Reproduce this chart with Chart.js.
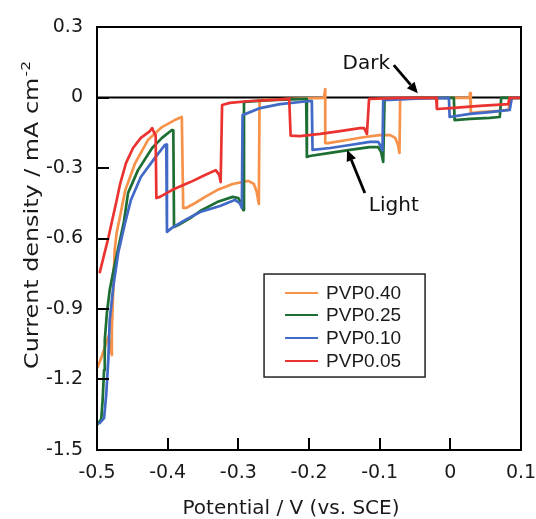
<!DOCTYPE html>
<html>
<head>
<meta charset="utf-8">
<script src="https://cdn.jsdelivr.net/npm/chart.js@4.4.1/dist/chart.umd.min.js"></script>
<style>
html,body{margin:0;padding:0;background:#fff;}
#wrap{width:536px;height:519px;}
</style>
</head>
<body>
<div id="wrap"><canvas id="c" width="536" height="519"></canvas></div>
<script>
// ---- data ----
const seriesNames = ["PVP0.40", "PVP0.25", "PVP0.10", "PVP0.05"];
const seriesColors = ["#F7924A", "#1D6E32", "#4169C6", "#EA3330"];

const potentialPVP040 = [-0.499,-0.493,-0.487,-0.484,-0.482,-0.479,-0.479,-0.477,-0.475,-0.472,-0.467,-0.460,-0.446,-0.428,-0.408,-0.390,-0.380,-0.378,-0.374,-0.361,-0.347,-0.330,-0.308,-0.286,-0.278,-0.274,-0.271,-0.270,-0.227,-0.179,-0.177,-0.177,-0.173,-0.146,-0.121,-0.100,-0.085,-0.078,-0.074,-0.072,-0.071,-0.020,0.027,0.028,0.029,0.042,0.070,0.082,0.083,0.100];
const currentPVP040 = [-1.147,-1.100,-1.047,-1.017,-1.047,-1.096,-0.989,-0.819,-0.649,-0.572,-0.500,-0.394,-0.279,-0.181,-0.126,-0.096,-0.083,-0.470,-0.470,-0.449,-0.423,-0.394,-0.368,-0.355,-0.368,-0.402,-0.453,-0.011,-0.006,-0.002,0.036,-0.194,-0.194,-0.181,-0.168,-0.160,-0.160,-0.172,-0.202,-0.236,-0.006,-0.002,-0.002,0.019,-0.066,-0.062,-0.057,-0.053,-0.002,-0.002];

const potentialPVP025 = [-0.500,-0.494,-0.492,-0.490,-0.489,-0.486,-0.482,-0.476,-0.469,-0.462,-0.456,-0.442,-0.422,-0.408,-0.394,-0.392,-0.391,-0.385,-0.368,-0.354,-0.330,-0.308,-0.300,-0.296,-0.293,-0.292,-0.255,-0.204,-0.203,-0.199,-0.170,-0.142,-0.114,-0.102,-0.098,-0.095,-0.093,-0.040,0.005,0.006,0.028,0.056,0.070,0.072,0.100];
const currentPVP025 = [-1.394,-1.368,-1.287,-1.160,-1.032,-0.917,-0.819,-0.726,-0.628,-0.530,-0.406,-0.309,-0.215,-0.172,-0.138,-0.140,-0.551,-0.543,-0.513,-0.483,-0.445,-0.423,-0.428,-0.449,-0.479,-0.019,-0.011,-0.006,-0.253,-0.249,-0.236,-0.223,-0.211,-0.211,-0.232,-0.274,-0.006,-0.002,-0.002,-0.096,-0.091,-0.087,-0.083,-0.002,-0.002];

const potentialPVP010 = [-0.496,-0.490,-0.487,-0.484,-0.482,-0.477,-0.470,-0.460,-0.452,-0.438,-0.418,-0.404,-0.402,-0.401,-0.394,-0.375,-0.354,-0.326,-0.305,-0.298,-0.295,-0.294,-0.269,-0.241,-0.199,-0.196,-0.195,-0.170,-0.142,-0.114,-0.102,-0.098,-0.096,-0.095,-0.040,-0.002,-0.001,0.028,0.056,0.084,0.087,0.100];
const currentPVP010 = [-1.385,-1.364,-1.266,-1.117,-0.947,-0.806,-0.662,-0.530,-0.436,-0.338,-0.257,-0.202,-0.200,-0.572,-0.555,-0.521,-0.487,-0.462,-0.436,-0.450,-0.470,-0.075,-0.045,-0.028,-0.015,-0.015,-0.223,-0.215,-0.202,-0.189,-0.189,-0.210,-0.225,-0.011,-0.004,-0.002,-0.083,-0.070,-0.062,-0.053,-0.002,-0.002];

const potentialPVP005 = [-0.496,-0.490,-0.484,-0.479,-0.473,-0.467,-0.459,-0.449,-0.438,-0.425,-0.422,-0.419,-0.417,-0.416,-0.411,-0.394,-0.368,-0.347,-0.332,-0.327,-0.325,-0.323,-0.312,-0.283,-0.255,-0.228,-0.226,-0.213,-0.184,-0.156,-0.128,-0.122,-0.118,-0.115,-0.071,-0.020,-0.019,0.000,0.042,0.082,0.084,0.100];
const currentPVP005 = [-0.743,-0.670,-0.598,-0.530,-0.449,-0.364,-0.279,-0.215,-0.172,-0.143,-0.130,-0.151,-0.160,-0.428,-0.423,-0.394,-0.360,-0.330,-0.309,-0.330,-0.360,-0.032,-0.023,-0.015,-0.011,-0.006,-0.162,-0.164,-0.155,-0.143,-0.130,-0.130,-0.155,-0.006,-0.002,-0.002,-0.049,-0.045,-0.036,-0.028,-0.002,-0.002];

const xTickValues = [-0.5,-0.4,-0.3,-0.2,-0.1,0,0.1];
const xTickLabels = ["-0.5","-0.4","-0.3","-0.2","-0.1","0","0.1"];
const yTickValues = [0.3,0,-0.3,-0.6,-0.9,-1.2,-1.5];
const yTickLabels = ["0.3","0","-0.3","-0.6","-0.9","-1.2","-1.5"];

const xTitle = "Potential / V (vs. SCE)";
const yTitleMain = "Current density / mA cm";
const yTitleSup = "-2";
const darkLabel = "Dark";
const lightLabel = "Light";
// arrow [x0,y0,x1(tip),y1(tip)] in data units, and label anchors
const darkArrow = [-0.080, 0.138, -0.046, 0.018];
const lightArrow = [-0.121, -0.406, -0.146, -0.223];
const darkText = [-0.119, 0.120];
const lightText = [-0.080, -0.482];

// ---- build ----
const seriesX = [potentialPVP040, potentialPVP025, potentialPVP010, potentialPVP005];
const seriesY = [currentPVP040, currentPVP025, currentPVP010, currentPVP005];
const toPts = (xs, ys) => xs.map((x, i) => ({x: x, y: ys[i]}));

const datasets = seriesNames.map((name, i) => ({
  label: name,
  data: toPts(seriesX[i], seriesY[i]),
  borderColor: seriesColors[i],
  backgroundColor: seriesColors[i],
  borderWidth: 2.7,
  pointRadius: 0,
  showLine: true,
  tension: 0,
  fill: false,
  borderJoinStyle: 'round',
  borderCapStyle: 'round',
  order: seriesNames.length - i
})).reverse();

const FONT = "'DejaVu Sans', sans-serif";

function arrow(ctx, x0, y0, x1, y1) {
  const ang = Math.atan2(y1 - y0, x1 - x0);
  const hl = 11, hw = 5;
  const bx = x1 - hl * Math.cos(ang), by = y1 - hl * Math.sin(ang);
  ctx.beginPath();
  ctx.moveTo(x0, y0);
  ctx.lineTo(bx, by);
  ctx.lineWidth = 2.8;
  ctx.strokeStyle = '#000';
  ctx.stroke();
  ctx.beginPath();
  ctx.moveTo(x1, y1);
  ctx.lineTo(bx - hw * Math.sin(ang), by + hw * Math.cos(ang));
  ctx.lineTo(bx + hw * Math.sin(ang), by - hw * Math.cos(ang));
  ctx.closePath();
  ctx.fillStyle = '#000';
  ctx.fill();
}

const framePlugin = {
  id: 'frame',
  beforeDatasetsDraw(chart) {
    const {ctx, chartArea: a, scales: {y}} = chart;
    const y0 = y.getPixelForValue(0);
    ctx.save();
    ctx.beginPath();
    ctx.moveTo(a.left, y0);
    ctx.lineTo(a.right, y0);
    ctx.lineWidth = 2;
    ctx.strokeStyle = '#000';
    ctx.stroke();
    ctx.restore();
  },
  afterDatasetsDraw(chart) {
    const {ctx, chartArea: a, scales: {x, y}} = chart;
    ctx.save();
    // frame
    ctx.lineWidth = 2;
    ctx.strokeStyle = '#000';
    ctx.strokeRect(a.left, a.top, a.right - a.left, a.bottom - a.top);
    // inward ticks
    ctx.lineWidth = 2;
    ctx.beginPath();
    xTickValues.forEach(v => {
      const px = Math.round(x.getPixelForValue(v));
      ctx.moveTo(px, a.bottom);
      ctx.lineTo(px, a.bottom - 12);
    });
    yTickValues.forEach(v => {
      const py = Math.round(y.getPixelForValue(v));
      ctx.moveTo(a.left, py);
      ctx.lineTo(a.left + 12, py);
    });
    ctx.stroke();

    // annotations
    arrow(ctx, x.getPixelForValue(darkArrow[0]), y.getPixelForValue(darkArrow[1]),
               x.getPixelForValue(darkArrow[2]), y.getPixelForValue(darkArrow[3]));
    arrow(ctx, x.getPixelForValue(lightArrow[0]), y.getPixelForValue(lightArrow[1]),
               x.getPixelForValue(lightArrow[2]), y.getPixelForValue(lightArrow[3]));
    ctx.fillStyle = '#111';
    ctx.font = "20px " + FONT;
    ctx.textAlign = 'center';
    ctx.textBaseline = 'alphabetic';
    ctx.fillText(darkLabel, x.getPixelForValue(darkText[0]), y.getPixelForValue(darkText[1]));
    ctx.fillText(lightLabel, x.getPixelForValue(lightText[0]), y.getPixelForValue(lightText[1]));

    // legend box
    const W = a.right - a.left, H = a.bottom - a.top;
    const lx = a.left + 0.394 * W, ly = a.top + 0.584 * H;
    const lw = 161, lh = 103;
    ctx.fillStyle = '#fff';
    ctx.fillRect(lx, ly, lw, lh);
    ctx.lineWidth = 1.5;
    ctx.strokeStyle = '#222';
    ctx.strokeRect(lx, ly, lw, lh);
    ctx.font = "19px 'Liberation Sans', Arial, sans-serif";
    ctx.textAlign = 'left';
    ctx.textBaseline = 'middle';
    const rowY = [19, 41, 64, 87];
    seriesNames.forEach((n, i) => {
      const ry = ly + rowY[i];
      ctx.beginPath();
      ctx.moveTo(lx + 21, ry);
      ctx.lineTo(lx + 54, ry);
      ctx.lineWidth = 2;
      ctx.strokeStyle = seriesColors[i];
      ctx.stroke();
      ctx.fillStyle = '#1a1a1a';
      ctx.fillText(n, lx + 62, ry + 1);
    });

    // axis titles
    ctx.fillStyle = '#1a1a1a';
    ctx.font = "20px " + FONT;
    ctx.textAlign = 'center';
    ctx.textBaseline = 'alphabetic';
    ctx.fillText(xTitle, 291, 514);

    ctx.save();
    ctx.translate(38, 215);
    ctx.rotate(-Math.PI / 2);
    ctx.font = "20px " + FONT;
    const wMain = ctx.measureText(yTitleMain).width;
    ctx.font = "13px " + FONT;
    const wSup = ctx.measureText(yTitleSup).width;
    const total = wMain + wSup + 1;
    ctx.scale(308 / total, 1);
    ctx.textAlign = 'left';
    ctx.font = "20px " + FONT;
    ctx.fillText(yTitleMain, -total / 2, 0);
    ctx.font = "13px " + FONT;
    ctx.fillText(yTitleSup, -total / 2 + wMain + 1, -8);
    ctx.restore();

    ctx.restore();
  }
};

new Chart(document.getElementById('c'), {
  type: 'scatter',
  data: {datasets: datasets},
  options: {
    responsive: false,
    animation: false,
    layout: {padding: {top: 27, right: 15, left: 0, bottom: 0}},
    plugins: {legend: {display: false}, tooltip: {enabled: false}},
    scales: {
      x: {
        type: 'linear', min: -0.5, max: 0.1,
        afterBuildTicks: s => { s.ticks = xTickValues.map(v => ({value: v})); },
        afterFit: s => { s.height = 69; s.paddingLeft = 0; s.paddingRight = 0; },
        grid: {display: false, drawTicks: false},
        border: {display: false},
        ticks: {
          autoSkip: false, maxRotation: 0, padding: 12, color: '#1a1a1a',
          font: {family: FONT, size: 19},
          callback: (v, i) => xTickLabels[i]
        }
      },
      y: {
        type: 'linear', min: -1.5, max: 0.3,
        afterBuildTicks: s => { s.ticks = yTickValues.map(v => ({value: v})); },
        afterFit: s => { s.width = 97; s.paddingTop = 0; s.paddingBottom = 0; },
        grid: {display: false, drawTicks: false},
        border: {display: false},
        ticks: {
          autoSkip: false, padding: 14, color: '#1a1a1a',
          font: {family: FONT, size: 19},
          callback: (v, i) => yTickLabels[i]
        }
      }
    }
  },
  plugins: [framePlugin]
});
</script>
</body>
</html>
